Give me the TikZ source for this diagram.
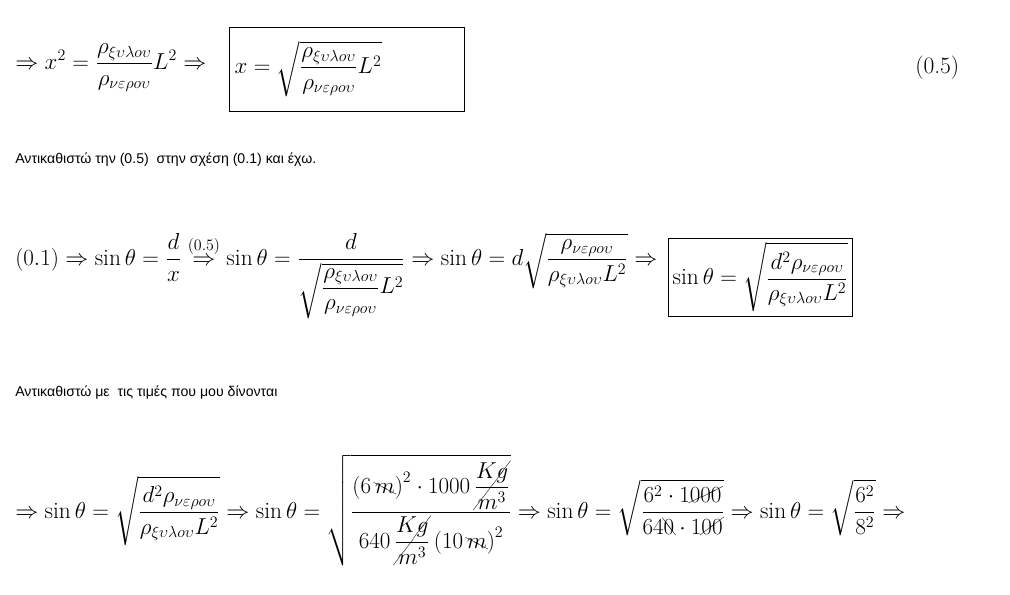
\documentclass[tikz,border=0pt]{standalone}
\usepackage{amsmath}
\usepackage{cancel}
\usepackage{fontspec}
\newfontfamily\grfont{Liberation Sans}
\newcommand{\xyl}{\xi\upsilon\lambda o\upsilon}
\newcommand{\ner}{\nu\varepsilon\rho o\upsilon}
\begin{document}
\begin{tikzpicture}[x=0.75pt,y=-0.75pt,
  eq/.style={anchor=west,inner sep=0pt,font=\fontsize{17.6}{21}\selectfont},
  txt/.style={anchor=west,inner sep=0pt,font=\grfont\fontsize{10.6}{13}\selectfont}]
\useasboundingbox (0,0) rectangle (1010,594);
\node[eq] (e1) at (15,68) {$\displaystyle \Rightarrow x^2=\frac{\rho_{\xyl}}{\rho_{\ner}}L^2\Rightarrow$};
\node[eq,draw,inner sep=3pt,minimum width=176pt,minimum height=63pt,text width=168pt] (b1) at (229,69) {$\displaystyle x=\sqrt{\frac{\rho_{\xyl}}{\rho_{\ner}}L^2}$};
\node[eq] (n1) at (915,68) {(0.5)};
\node[txt] (t1) at (15,160) {Αντικαθιστώ την (0.5)\ \ στην σχέση (0.1) και έχω.};
\node[eq] (e2) at (15,276) {$\displaystyle (0.1)\Rightarrow \sin\theta=\frac{d}{x}\overset{(0.5)}{\Rightarrow}\sin\theta=\frac{d}{\sqrt{\dfrac{\rho_{\xyl}}{\rho_{\ner}}L^2}}\Rightarrow\sin\theta=d\sqrt{\frac{\rho_{\ner}}{\rho_{\xyl}L^2}}\Rightarrow$};
\node[eq,draw,inner sep=3pt,anchor=west] (b2) at ([xshift=8pt]e2.east |- 0,277) {$\displaystyle \sin\theta=\sqrt{\frac{d^2\rho_{\ner}}{\rho_{\xyl}L^2}}$};
\node[txt] (t2) at (15,393) {Αντικαθιστώ με\ \ τις τιμές που μου δίνονται};
\node[eq] (e3) at (15,510) {$\displaystyle \Rightarrow\sin\theta=\sqrt{\frac{d^2\rho_{\ner}}{\rho_{\xyl}L^2}}\Rightarrow\sin\theta=\sqrt{\frac{\left(6\,\bcancel{m}\right)^2\cdot1000\,\cancel{\dfrac{Kg}{m^3}}}{640\,\cancel{\dfrac{Kg}{m^3}}\left(10\,\bcancel{m}\right)^2}}\Rightarrow\sin\theta=\sqrt{\frac{6^2\cdot1\cancel{000}}{64\bcancel{0}\cdot1\cancel{00}}}\Rightarrow\sin\theta=\sqrt{\frac{6^2}{8^2}}\Rightarrow$};
\end{tikzpicture}
\end{document}
